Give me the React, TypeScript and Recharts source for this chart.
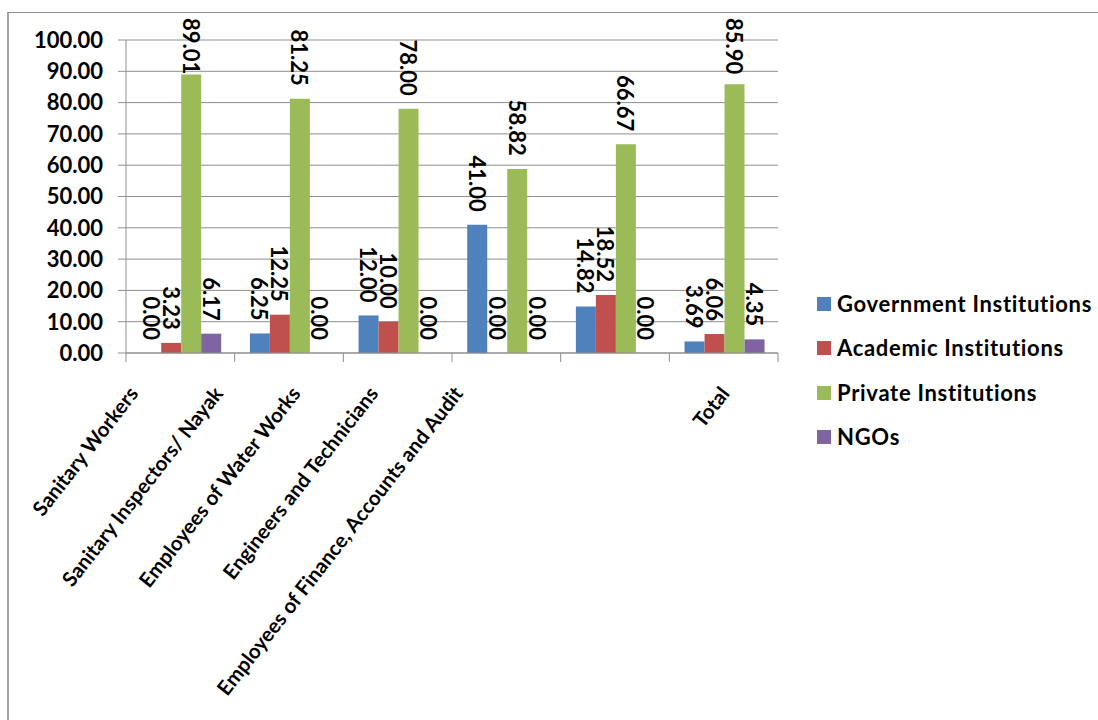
import React from 'react';
import { BarChart, Bar, XAxis, YAxis, CartesianGrid, Legend, LabelList } from 'recharts';

const categories = [
  'Sanitary Workers',
  'Sanitary Inspectors/ Nayak',
  'Employees of Water Works',
  'Engineers and Technicians',
  'Employees of Finance, Accounts and Audit',
  'Total',
];
const government = [0.0, 6.25, 12.0, 41.0, 14.82, 3.69];
const academic = [3.23, 12.25, 10.0, 0.0, 18.52, 6.06];
const privateInst = [89.01, 81.25, 78.0, 58.82, 66.67, 85.9];
const ngos = [6.17, 0.0, 0.0, 0.0, 0.0, 4.35];
const seriesNames = ['Government Institutions', 'Academic Institutions', 'Private Institutions', 'NGOs'];
const yTicks = [0, 10, 20, 30, 40, 50, 60, 70, 80, 90, 100];

const data = categories.map((name, i) => ({
  name,
  gov: government[i],
  acad: academic[i],
  priv: privateInst[i],
  ngo: ngos[i],
}));

const W = 1098;
const H = 720;
const PLOT_LEFT = 126;
const PLOT_RIGHT = 778;
const PLOT_TOP = 40;
const PLOT_BOTTOM = 353;
const BAND = (PLOT_RIGHT - PLOT_LEFT) / categories.length;
const FONT = 'Lato, "Open Sans", "DejaVu Sans", sans-serif';
const AXIS = '#8f8f8f';
const COLORS = ['#4F81BD', '#C0504D', '#9BBB59', '#8064A2'];
const tickShift = [-41, -65, -96, -127, -151, 7];

function XTick(props: any) {
  const { x, y, payload } = props;
  const i = payload.index ?? props.index ?? 0;
  const left = x - BAND / 2;
  const ax = x + tickShift[i];
  const ay = y + 41;
  return (
    <g>
      <line x1={left} y1={y} x2={left} y2={y + 9} stroke={AXIS} strokeWidth={1} />
      {i === categories.length - 1 && (
        <line x1={x + BAND / 2} y1={y} x2={x + BAND / 2} y2={y + 9} stroke={AXIS} strokeWidth={1} />
      )}
      <text
        x={ax}
        y={ay}
        transform={`rotate(-52, ${ax}, ${ay})`}
        textAnchor="end"
        fontFamily={FONT}
        fontSize={20.5}
        fontWeight="bold"
        fill="#000"
      >
        {payload.value}
      </text>
    </g>
  );
}

function renderLabel(props: any) {
  const vb = props.viewBox || {};
  const x = Number(props.x ?? vb.x);
  const y = Number(props.y ?? vb.y);
  const width = Number(props.width ?? vb.width);
  const height = Number(props.height ?? vb.height ?? 0);
  const cx = x + width / 2;
  const top = Math.min(y, y + height);
  const txt = Number(props.value).toFixed(2);
  const len = txt.length * 11.2;
  let ay = top - 13;
  let anchor: any = 'end';
  if (ay - len < 18) {
    ay = 18;
    anchor = 'start';
  }
  return (
    <text
      x={cx}
      y={ay}
      transform={`rotate(90, ${cx}, ${ay})`}
      textAnchor={anchor}
      dominantBaseline="central"
      fontFamily={FONT}
      fontSize={22}
      fontWeight="bold"
      fill="#000"
    >
      {txt}
    </text>
  );
}

function LegendContent(props: any) {
  const payload = [...(props.payload || [])].sort(
    (a: any, b: any) => seriesNames.indexOf(a.value) - seriesNames.indexOf(b.value)
  );
  return (
    <div style={{ fontFamily: FONT }}>
      {payload.map((p: any) => (
        <div key={p.value} style={{ display: 'flex', alignItems: 'center', height: 44.3 }}>
          <span
            style={{ width: 14, height: 14, background: p.color, marginRight: 6, display: 'inline-block' }}
          />
          <span style={{ fontSize: 22, fontWeight: 'bold', letterSpacing: 0.7, color: '#000', lineHeight: '22px' }}>
            {p.value}
          </span>
        </div>
      ))}
    </div>
  );
}

export default function App() {
  const keys = ['gov', 'acad', 'priv', 'ngo'];
  return (
    <div style={{ position: 'relative', width: W, height: H, overflow: 'hidden', background: '#fff' }}>
      <style>{'body{margin:0;overflow:hidden;}'}</style>
      <div
        style={{
          position: 'absolute',
          left: 7,
          top: 12,
          width: 1200,
          height: 900,
          borderLeft: '2px solid #a3a3a3',
          borderTop: '1px solid #8f8f8f',
        }}
      />
      <div style={{ position: 'absolute', left: 0, top: 0 }}>
        <BarChart
          width={W}
          height={H}
          data={data}
          margin={{ top: PLOT_TOP, right: W - PLOT_RIGHT, bottom: 0, left: 0 }}
          barCategoryGap="14%"
          barGap={0}
        >
          <CartesianGrid vertical={false} stroke={AXIS} strokeWidth={1} />
          <XAxis
            dataKey="name"
            interval={0}
            height={H - PLOT_BOTTOM}
            tickSize={0}
            tickMargin={0}
            tickLine={false}
            axisLine={{ stroke: AXIS }}
            tick={<XTick />}
          />
          <YAxis
            domain={[0, 100]}
            ticks={yTicks}
            interval={0}
            width={PLOT_LEFT}
            tickSize={8}
            tickMargin={15}
            tickFormatter={(v: number) => v.toFixed(2)}
            axisLine={{ stroke: AXIS }}
            tickLine={{ stroke: AXIS }}
            tick={{ fill: '#000', fontSize: 22, fontWeight: 'bold', fontFamily: FONT }}
          />
          <Legend
            layout="vertical"
            align="center"
            verticalAlign="middle"
            content={<LegendContent />}
            wrapperStyle={{ left: 817, top: 282, width: 281, height: 180 }}
          />
          {keys.map((k, i) => (
            <Bar
              key={k}
              dataKey={k}
              name={seriesNames[i]}
              fill={COLORS[i]}
              minPointSize={0.01}
              isAnimationActive={false}
            >
              <LabelList dataKey={k} content={renderLabel} />
            </Bar>
          ))}
        </BarChart>
      </div>
    </div>
  );
}
